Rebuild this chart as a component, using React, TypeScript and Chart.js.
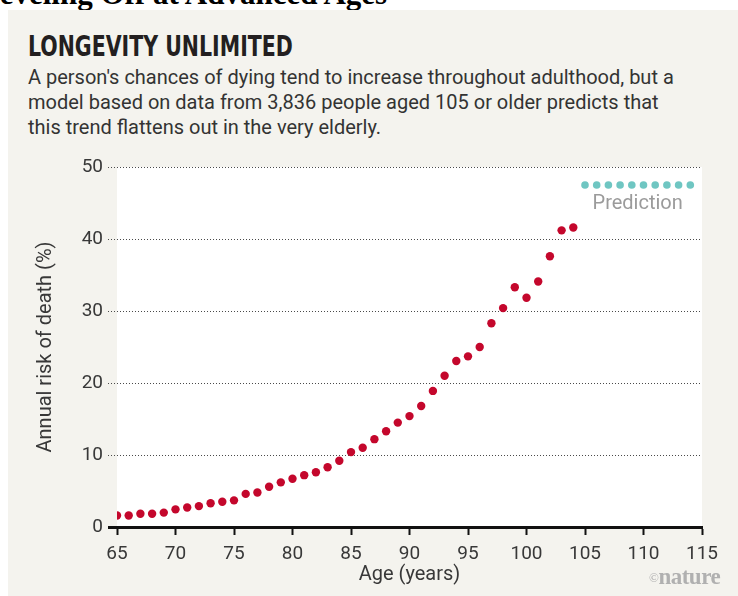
import React, { useEffect, useLayoutEffect, useRef } from "react";
import { Chart, registerables } from "chart.js";

Chart.register(...registerables);

// ---- Data ----
const observedAges = [
  65, 66, 67, 68, 69, 70, 71, 72, 73, 74, 75, 76, 77, 78, 79, 80, 81, 82, 83, 84,
  85, 86, 87, 88, 89, 90, 91, 92, 93, 94, 95, 96, 97, 98, 99, 100, 101, 102, 103, 104,
];
const observedRisk = [
  1.6, 1.6, 1.85, 1.85, 2.0, 2.45, 2.7, 2.9, 3.3, 3.5, 3.7, 4.6, 4.8, 5.6, 6.2, 6.7, 7.2, 7.6, 8.3, 9.2,
  10.4, 11.0, 12.2, 13.3, 14.5, 15.4, 16.8, 18.9, 21.0, 23.05, 23.7, 25.0, 28.3, 30.4, 33.3, 31.85, 34.1, 37.6, 41.2, 41.6,
];
const predictionAges = [105, 106, 107, 108, 109, 110, 111, 112, 113, 114];
const predictionRisk = [47.5, 47.5, 47.5, 47.5, 47.5, 47.5, 47.5, 47.5, 47.5, 47.5];
const xTickValues = [65, 70, 75, 80, 85, 90, 95, 100, 105, 110, 115];
const yTickValues = [0, 10, 20, 30, 40, 50];

const headingText = "Leveling Off at Advanced Ages";
const titleText = "LONGEVITY UNLIMITED";
const subtitleLines = [
  "A person's chances of dying tend to increase throughout adulthood, but a",
  "model based on data from 3,836 people aged 105 or older predicts that",
  "this trend flattens out in the very elderly.",
];
const xTitle = "Age (years)";
const yTitle = "Annual risk of death (%)";
const predictionLabel = "Prediction";

const FONT = "Roboto, 'Open Sans', sans-serif";
const RED = "#c4072c";
const TEAL = "#6fc6c2";

const plotBackground = {
  id: "plotBackground",
  beforeDraw(chart: any) {
    const { ctx, chartArea } = chart;
    ctx.save();
    ctx.fillStyle = "#ffffff";
    ctx.fillRect(chartArea.left, chartArea.top, chartArea.right - chartArea.left, chartArea.bottom - chartArea.top);
    ctx.restore();
  },
};

const predictionText = {
  id: "predictionText",
  afterDatasetsDraw(chart: any) {
    const { ctx, scales } = chart;
    const x = (scales.x.getPixelForValue(predictionAges[0]) + scales.x.getPixelForValue(predictionAges[predictionAges.length - 1])) / 2;
    const y = scales.y.getPixelForValue(predictionRisk[0]) + 19;
    ctx.save();
    ctx.font = `20px ${FONT}`;
    ctx.fillStyle = "#9b9b9b";
    ctx.textAlign = "center";
    ctx.textBaseline = "middle";
    ctx.fillText(predictionLabel, x, y);
    ctx.restore();
  },
};

export default function App() {
  const canvasRef = useRef<HTMLCanvasElement | null>(null);
  const titleRef = useRef<HTMLSpanElement | null>(null);

  useLayoutEffect(() => {
    const el = titleRef.current;
    if (el) {
      const w = el.offsetWidth;
      if (w > 0) el.style.transform = `scaleX(${265 / w})`;
    }
  }, []);

  useEffect(() => {
    if (!canvasRef.current) return;
    const chart = new Chart(canvasRef.current, {
      type: "scatter",
      data: {
        datasets: [
          {
            label: "Observed",
            data: observedAges.map((a, i) => ({ x: a, y: observedRisk[i] })),
            backgroundColor: RED,
            borderColor: RED,
            borderWidth: 0,
            pointRadius: 4.2,
          },
          {
            label: "Prediction",
            data: predictionAges.map((a, i) => ({ x: a, y: predictionRisk[i] })),
            backgroundColor: TEAL,
            borderColor: TEAL,
            borderWidth: 0,
            pointRadius: 3.8,
          },
        ],
      },
      options: {
        animation: false,
        responsive: false,
        maintainAspectRatio: false,
        layout: { padding: { top: 167, right: 36, left: 0, bottom: 0 } },
        plugins: { legend: { display: false }, tooltip: { enabled: false }, title: { display: false } },
        scales: {
          x: {
            type: "linear",
            min: 65,
            max: 115,
            afterFit: (scale: any) => {
              scale.height = 69;
            },
            afterBuildTicks: (scale: any) => {
              scale.ticks = xTickValues.map((v) => ({ value: v }));
            },
            ticks: {
              color: "#383838",
              font: { family: FONT, size: 19 },
              padding: 8,
              maxRotation: 0,
              autoSkip: false,
            },
            grid: {
              display: true,
              drawOnChartArea: false,
              drawTicks: true,
              tickLength: 8,
              tickColor: "#111111",
              tickWidth: 2,
            },
            border: { display: true, color: "#111111", width: 3 },
            title: {
              display: true,
              text: xTitle,
              color: "#383838",
              font: { family: FONT, size: 20 },
              padding: { top: 0, bottom: 9 },
            },
          },
          y: {
            type: "linear",
            min: 0,
            max: 50,
            afterFit: (scale: any) => {
              scale.width = 117;
            },
            afterBuildTicks: (scale: any) => {
              scale.ticks = yTickValues.map((v) => ({ value: v }));
            },
            ticks: {
              color: "#383838",
              font: { family: FONT, size: 19 },
              padding: 5,
            },
            grid: {
              display: true,
              drawOnChartArea: true,
              drawTicks: true,
              tickLength: 9,
              color: (c: any) => (c.tick && c.tick.value === 0 ? "#111111" : "#4a4a4a"),
              lineWidth: 1,
              tickColor: (c: any) => (c.tick && c.tick.value === 0 ? "#111111" : "#4a4a4a"),
              tickWidth: (c: any) => (c.tick && c.tick.value === 0 ? 3 : 1),
              tickBorderDash: (c: any) => (c.tick && c.tick.value === 0 ? [] : [1, 2]),
            },
            border: { display: false, dash: [1, 2] },
            title: {
              display: true,
              text: yTitle,
              color: "#383838",
              font: { family: FONT, size: 20 },
              padding: { top: 34, bottom: 0 },
            },
          },
        },
      },
      plugins: [plotBackground, predictionText],
    } as any);
    return () => chart.destroy();
  }, []);

  return (
    <div style={{ position: "absolute", left: 0, top: 0, width: 738, height: 596, overflow: "hidden", background: "#ffffff" }}>
      <div
        style={{
          position: "absolute",
          left: -21,
          top: -23,
          fontFamily: "'Liberation Serif', 'Times New Roman', serif",
          fontWeight: 700,
          fontSize: 31,
          lineHeight: "34px",
          color: "#000",
          whiteSpace: "nowrap",
        }}
      >
        {headingText}
      </div>
      <div style={{ position: "absolute", left: 8, top: 10, width: 730, height: 586, background: "#f4f3ee" }} />
      <div style={{ position: "absolute", left: 28, top: 31, whiteSpace: "nowrap" }}>
        <span
          ref={titleRef}
          style={{
            display: "inline-block",
            transformOrigin: "left top",
            fontFamily: "'DejaVu Sans Condensed', 'Liberation Sans Narrow', 'DejaVu Sans', sans-serif",
            fontStretch: "condensed",
            fontWeight: 700,
            fontSize: 29,
            lineHeight: "30px",
            color: "#231f20",
          }}
        >
          {titleText}
        </span>
      </div>
      <div
        style={{
          position: "absolute",
          left: 28,
          top: 65,
          fontFamily: FONT,
          fontSize: 20,
          lineHeight: "25px",
          color: "#333333",
          whiteSpace: "nowrap",
        }}
      >
        {subtitleLines.map((l, i) => (
          <div key={i}>{l}</div>
        ))}
      </div>
      <canvas ref={canvasRef} width={738} height={596} style={{ position: "absolute", left: 0, top: 0, width: 738, height: 596 }} />
      <div
        style={{
          position: "absolute",
          left: 649,
          top: 563,
          fontFamily: "'Liberation Serif', 'Times New Roman', serif",
          fontSize: 23,
          fontWeight: 700,
          lineHeight: "28px",
          color: "#b0b0b0",
          whiteSpace: "nowrap",
          letterSpacing: -0.5,
        }}
      >
        <span style={{ fontSize: 13, fontWeight: 400, verticalAlign: "2px" }}>©</span>nature
      </div>
    </div>
  );
}
